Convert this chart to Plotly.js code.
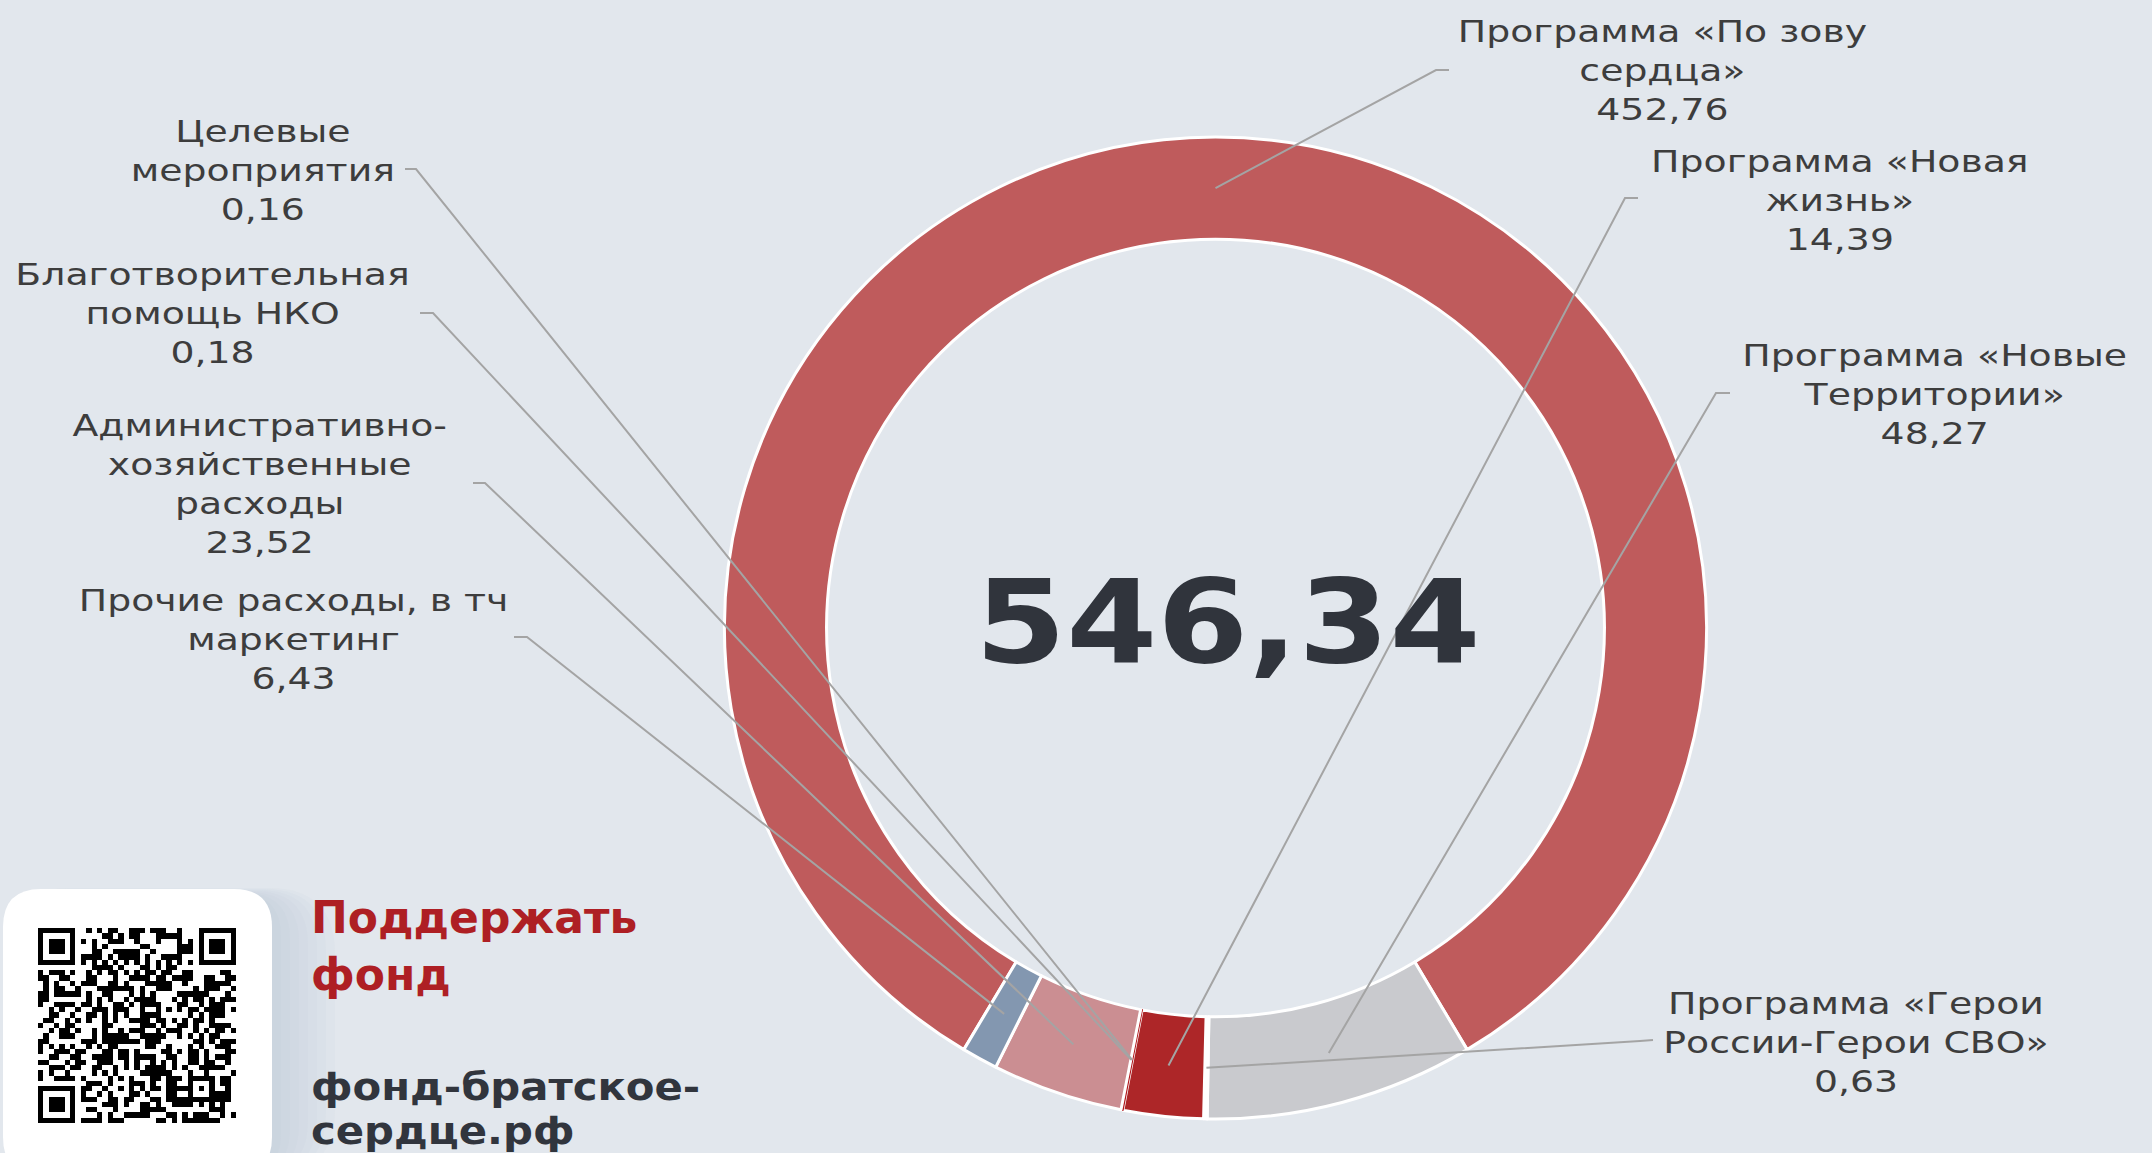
<!DOCTYPE html>
<html>
<head>
<meta charset="utf-8">
<script src="https://cdn.plot.ly/plotly-3.0.1.min.js"></script>
<style>
  html, body { margin: 0; padding: 0; background: #E2E7ED; overflow: hidden; }
  #chart { width: 2152px; height: 1153px; }
  .annotation[data-index="0"] text, .annotation[data-index="1"] text,
  .annotation[data-index="2"] text, .annotation[data-index="3"] text,
  .annotation[data-index="4"] text, .annotation[data-index="5"] text,
  .annotation[data-index="6"] text, .annotation[data-index="7"] text {
    transform-box: fill-box; transform-origin: center; transform: scaleX(1.26);
  }
  .annotation[data-index="8"] text {
    transform-box: fill-box; transform-origin: center; transform: scaleX(1.13);
  }
  .annotation[data-index="10"] text {
    transform-box: fill-box; transform-origin: left center; transform: scaleX(1.1);
  }
</style>
</head>
<body>
<div id="chart"></div>
<script>
// ---------------- data ----------------
const categories = [
  'Программа «По зову сердца»',
  'Программа «Новые Территории»',
  'Программа «Герои России-Герои СВО»',
  'Программа «Новая жизнь»',
  'Целевые мероприятия',
  'Благотворительная помощь НКО',
  'Административно-хозяйственные расходы',
  'Прочие расходы, в тч маркетинг'
];
const values = [452.76, 48.27, 0.63, 14.39, 0.16, 0.18, 23.52, 6.43];
const labelTexts = [
  'Программа «По зову<br>сердца»',
  'Программа «Новые<br>Территории»',
  'Программа «Герои<br>России-Герои СВО»',
  'Программа «Новая<br>жизнь»',
  'Целевые<br>мероприятия',
  'Благотворительная<br>помощь НКО',
  'Административно-<br>хозяйственные<br>расходы',
  'Прочие расходы, в тч<br>маркетинг'
];
const supportText = 'Поддержать<br>фонд';
const urlLines = ['фонд-братское-', 'сердце.рф'];

// ---------------- styles / layout config ----------------
const sliceColors = ['#BF5B5C', '#C9CACE', '#FFFFFF', '#AD2628', '#B0191E', '#B0191E', '#CB8E92', '#8397B0'];
const sliceLineColors = ['#FFFFFF', '#FFFFFF', '#FFFFFF', '#FFFFFF', '#B0191E', '#B0191E', '#FFFFFF', '#FFFFFF'];
const sliceLineWidths = [3, 3, 3, 3, 1.6, 1.6, 3, 3];

const W = 2152, H = 1153;
const cx = 1215.5, cy = 628, rOut = 491, hole = 0.792;
const rMid = rOut * (1 + hole) / 2;

// label placement (pixels): label centre, leader end near text, elbow
const labelLayout = [
  {lx: 1662, ly: 70,  ex: 1449, ey: 70,  bx: 1436, by: 70},
  {lx: 1934, ly: 395, ex: 1730, ey: 393, bx: 1716, by: 393},
  {lx: 1856, ly: 1042, ex: 1653, ey: 1040, bx: 1640, by: 1041},
  {lx: 1840, ly: 200, ex: 1638, ey: 198, bx: 1625, by: 198},
  {lx: 263,  ly: 170, ex: 405,  ey: 169, bx: 416,  by: 169},
  {lx: 212,  ly: 314, ex: 420,  ey: 313, bx: 433,  by: 313},
  {lx: 259,  ly: 484, ex: 473,  ey: 483, bx: 485,  by: 483},
  {lx: 293,  ly: 639, ex: 514,  ey: 637, bx: 527,  by: 637}
];

const X = px => px / W;
const Y = py => 1 - py / H;
const fmt = v => v.toFixed(2).replace('.', ',');

const total = values.reduce((a, b) => a + b, 0);
const rotation = -values[0] / total * 180;

// anchors on the ring, derived from the data (mid-angle of each slice)
let cum = 0;
const anchors = values.map(v => {
  const th = (rotation + (cum + v / 2) / total * 360) * Math.PI / 180;
  cum += v;
  return [cx + rMid * Math.sin(th), cy - rMid * Math.cos(th)];
});

// ---------------- QR-like decoration ----------------
const N = 37;
const qr = [];
const seedBits = [];
for (const ch of urlLines.join('')) {
  const code = ch.charCodeAt(0);
  for (let b = 0; b < 11; b++) seedBits.push((code >> b) & 1);
}
for (let r = 0; r < N; r++) {
  const row = [];
  for (let c = 0; c < N; c++) {
    let v = seedBits[(r * N + c * 7) % seedBits.length] ^ ((r + c) % 2 === 0 ? 1 : 0) ^ ((r * c) % 3 === 0 ? 1 : 0);
    row.push(v);
  }
  qr.push(row);
}
function finder(r0, c0) {
  for (let r = -1; r < 8; r++) for (let c = -1; c < 8; c++) {
    const rr = r0 + r, cc = c0 + c;
    if (rr < 0 || cc < 0 || rr >= N || cc >= N) continue;
    let v = 0;
    if (r >= 0 && r <= 6 && c >= 0 && c <= 6) {
      const ring = Math.min(r, c, 6 - r, 6 - c);
      v = (ring === 0 || ring >= 2) ? 1 : 0;
    }
    qr[rr][cc] = v;
  }
}
finder(0, 0); finder(0, N - 7); finder(N - 7, 0);
for (let i = 8; i < N - 8; i++) { qr[6][i] = (i % 2 === 0) ? 1 : 0; qr[i][6] = (i % 2 === 0) ? 1 : 0; }
for (let r = -2; r <= 2; r++) for (let c = -2; c <= 2; c++) {
  const ring = Math.max(Math.abs(r), Math.abs(c));
  qr[30 + r][30 + c] = (ring === 1) ? 0 : 1;
}

function roundRect(x0, y0, x1, y1, r) {
  return 'M' + X(x0 + r) + ',' + Y(y0) +
    ' L' + X(x1 - r) + ',' + Y(y0) +
    ' Q' + X(x1) + ',' + Y(y0) + ' ' + X(x1) + ',' + Y(y0 + r) +
    ' L' + X(x1) + ',' + Y(y1 - r) +
    ' Q' + X(x1) + ',' + Y(y1) + ' ' + X(x1 - r) + ',' + Y(y1) +
    ' L' + X(x0 + r) + ',' + Y(y1) +
    ' Q' + X(x0) + ',' + Y(y1) + ' ' + X(x0) + ',' + Y(y1 - r) +
    ' L' + X(x0) + ',' + Y(y0 + r) +
    ' Q' + X(x0) + ',' + Y(y0) + ' ' + X(x0 + r) + ',' + Y(y0) + ' Z';
}

// ---------------- traces ----------------
const pieTrace = {
  type: 'pie',
  labels: categories,
  values: values,
  sort: false,
  direction: 'clockwise',
  rotation: rotation,
  hole: hole,
  textinfo: 'none',
  hoverinfo: 'label+value',
  showlegend: false,
  marker: { colors: sliceColors, line: { color: sliceLineColors, width: sliceLineWidths } },
  domain: { x: [X(cx - rOut), X(cx + rOut)], y: [Y(cy + rOut), Y(cy - rOut)] }
};

const qrTrace = {
  type: 'heatmap',
  z: qr,
  colorscale: [[0, '#FFFFFF'], [1, '#000000']],
  zmin: 0, zmax: 1,
  showscale: false,
  hoverinfo: 'skip',
  xaxis: 'x', yaxis: 'y'
};

// ---------------- shapes ----------------
const shapes = [];
for (let k = 7; k >= 1; k--) {
  shapes.push({
    type: 'path', xref: 'paper', yref: 'paper', layer: 'below',
    path: roundRect(3, 889 + 6 - k, 272 + k * 9, 1175, 38 + k * 4),
    fillcolor: 'rgba(170,180,208,0.06)', line: { width: 0 }
  });
}
shapes.push({
  type: 'path', xref: 'paper', yref: 'paper', layer: 'below',
  path: roundRect(3, 889, 272, 1175, 38),
  fillcolor: '#FFFFFF', line: { width: 0 }
});
labelLayout.forEach((L, i) => {
  const a = anchors[i];
  shapes.push({
    type: 'path', xref: 'paper', yref: 'paper', layer: 'above',
    path: 'M' + X(a[0]) + ',' + Y(a[1]) + ' L' + X(L.bx) + ',' + Y(L.by) + ' L' + X(L.ex) + ',' + Y(L.ey),
    line: { color: '#A4A4A4', width: 2 }
  });
});

// ---------------- annotations ----------------
const labelFont = { family: 'DejaVu Sans', size: 30, color: '#3D3D3D' };
const annotations = labelLayout.map((L, i) => ({
  xref: 'paper', yref: 'paper', x: X(L.lx), y: Y(L.ly),
  xanchor: 'center', yanchor: 'middle', align: 'center', showarrow: false,
  text: labelTexts[i] + '<br>' + fmt(values[i]),
  font: labelFont
}));
annotations.push({
  xref: 'paper', yref: 'paper', x: X(1227.5), y: Y(621.5),
  xanchor: 'center', yanchor: 'middle', showarrow: false,
  text: fmt(total),
  font: { family: 'DejaVu Sans', size: 116, weight: 700, color: '#30343C' }
});
annotations.push({
  xref: 'paper', yref: 'paper', x: X(309), y: Y(945.5),
  xanchor: 'left', yanchor: 'middle', align: 'left', showarrow: false,
  text: supportText,
  font: { family: 'DejaVu Sans', size: 44, weight: 700, color: '#AE1F24' }
});
annotations.push({
  xref: 'paper', yref: 'paper', x: X(309), y: Y(1063),
  xanchor: 'left', yanchor: 'top', align: 'left', showarrow: false,
  text: urlLines.join('<br>'),
  font: { family: 'DejaVu Sans', size: 38, weight: 700, color: '#31353D' }
});

const layout = {
  width: W, height: H, autosize: false,
  margin: { l: 0, r: 0, t: 0, b: 0, pad: 0 },
  paper_bgcolor: '#E2E7ED', plot_bgcolor: 'rgba(0,0,0,0)',
  showlegend: false,
  xaxis: { domain: [X(38), X(236)], range: [-0.5, N - 0.5], visible: false, fixedrange: true },
  yaxis: { domain: [Y(1123), Y(928)], range: [N - 0.5, -0.5], visible: false, fixedrange: true },
  shapes: shapes,
  annotations: annotations
};

Plotly.newPlot('chart', [qrTrace, pieTrace], layout, { displayModeBar: false, staticPlot: true }).then(() => {
  // slightly tighter line spacing for the two-line address, as in the reference
  document.querySelectorAll('.annotation[data-index="10"] tspan.line').forEach(t => {
    const dy = t.getAttribute('dy');
    if (dy && /em$/.test(dy)) t.setAttribute('dy', (parseFloat(dy) * 0.9) + 'em');
  });
});
</script>
</body>
</html>
